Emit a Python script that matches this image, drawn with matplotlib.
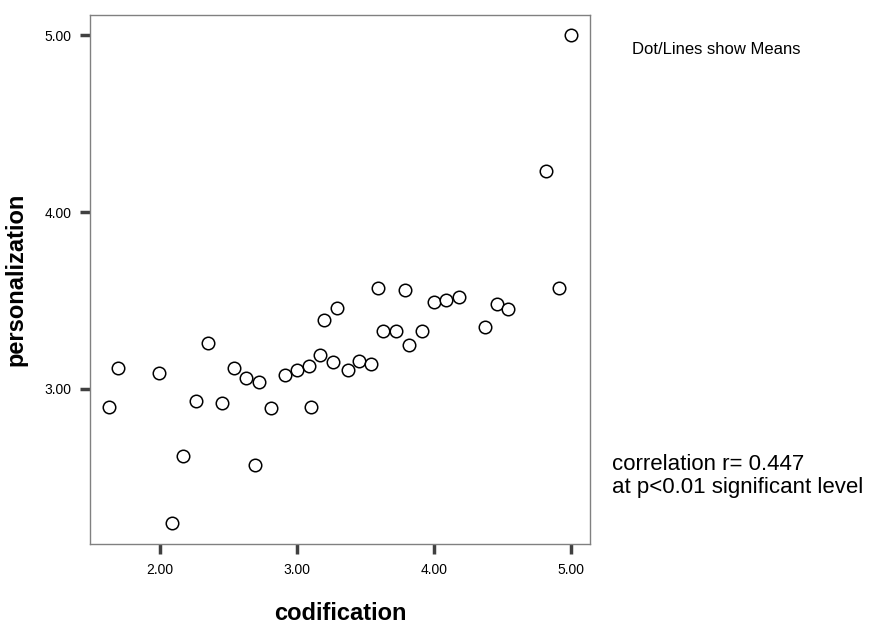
import matplotlib.pyplot as plt
import numpy as np

plt.rcParams['font.family'] = ['Liberation Sans', 'DejaVu Sans']

# mean codification / personalization pairs
codification = [1.63, 1.69, 1.99, 2.09, 2.17, 2.26, 2.35, 2.45, 2.54, 2.63,
                2.72, 2.69, 2.81, 2.91, 3.00, 3.09, 3.10, 3.17, 3.20, 3.26,
                3.29, 3.37, 3.45, 3.54, 3.59, 3.63, 3.72, 3.79, 3.82, 3.91,
                4.00, 4.09, 4.18, 4.37, 4.46, 4.54, 4.82, 4.91, 5.00]
personalization = [2.90, 3.12, 3.09, 2.24, 2.62, 2.93, 3.26, 2.92, 3.12, 3.06,
                   3.04, 2.57, 2.89, 3.08, 3.11, 3.13, 2.90, 3.19, 3.39, 3.15,
                   3.46, 3.11, 3.16, 3.14, 3.57, 3.33, 3.33, 3.56, 3.25, 3.33,
                   3.49, 3.50, 3.52, 3.35, 3.48, 3.45, 4.23, 3.57, 5.00]
xticks = [2.0, 3.0, 4.0, 5.0]
yticks = [3.0, 4.0, 5.0]

fig = plt.figure(figsize=(8.82, 6.27), dpi=100)
ax = fig.add_axes([0.102, 0.1324, 0.567, 0.8436])

ax.plot(codification, personalization, 'o', ms=9, mfc='white', mec='black', mew=1.1)

ax.set_xlim(1.489, 5.139)
ax.set_ylim(2.124, 5.113)
ax.set_xticks(xticks)
ax.set_yticks(yticks)
ax.set_xticklabels([f'{t:.2f}' for t in xticks])
ax.set_yticklabels([f'{t:.2f}' for t in yticks])
ax.tick_params(length=7.5, width=2.5, color='#404040', labelsize=10, pad=6)

for s in ax.spines.values():
    s.set_color('#808080')
    s.set_linewidth(1)

ax.set_xlabel('codification', fontsize=17, fontweight='bold', labelpad=18)
ax.set_ylabel('personalization', fontsize=17, fontweight='bold', labelpad=12)

fig.text(632 / 882, 1 - 50 / 627, 'Dot/Lines show Means', fontsize=12, va='center')
fig.text(612 / 882, 1 - 476 / 627, 'correlation r= 0.447\nat p<0.01 significant level',
         fontsize=16, va='center', linespacing=1.15)

fig.savefig('out.png', dpi=100)
